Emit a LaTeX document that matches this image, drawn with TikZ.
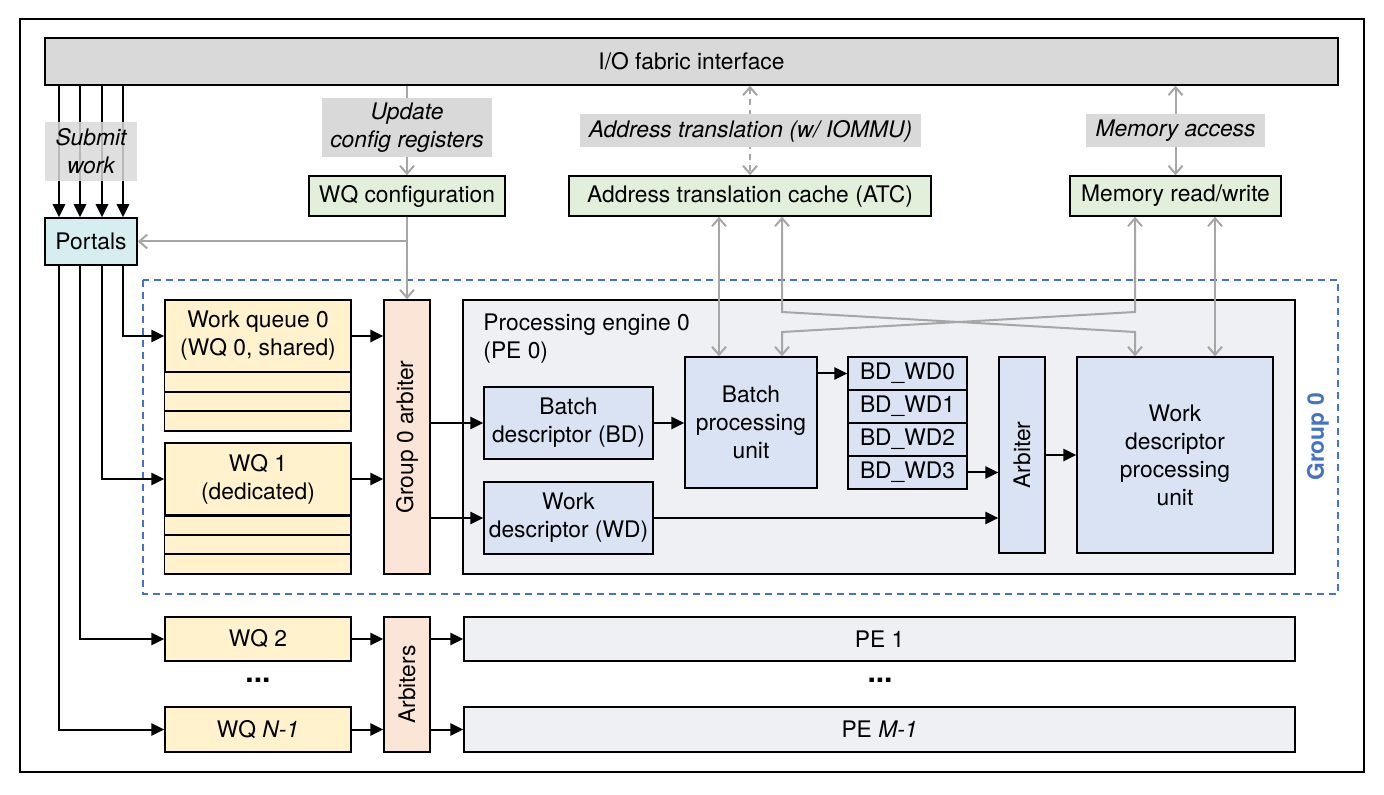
\documentclass[tikz,border=0pt]{standalone}
\usepackage{fontspec}
\setmainfont{TeX Gyre Heros}
\usetikzlibrary{arrows.meta, positioning}
\definecolor{monGris}{RGB}{217,217,217}
\definecolor{monVert}{RGB}{226,239,218}
\definecolor{monCyan}{RGB}{214,238,240}
\definecolor{monJaune}{RGB}{255,242,204}
\definecolor{monOrange}{RGB}{251,229,214}
\definecolor{monBleu}{RGB}{218,227,243}
\definecolor{monFond}{RGB}{239,240,244}
\definecolor{monTrait}{RGB}{166,166,166}
\definecolor{monGroupe}{RGB}{68,114,196}
\newcommand{\police}{\fontsize{11.4}{14}\selectfont}
\tikzset{
  boite/.style={draw, line width=0.75pt, inner sep=0pt, align=center},
  etiq/.style={fill=monGris, inner sep=0pt, align=center, font=\police\itshape},
  noir/.style={line width=1pt, -{Triangle[length=6.5pt,width=6.2pt]}},
  gris/.style={monTrait, line width=1pt, -{Straight Barb[length=4pt,width=7pt]}},
  grisdouble/.style={monTrait, line width=1pt, {Straight Barb[length=4pt,width=7pt]}-{Straight Barb[length=4pt,width=7pt]}}
}

\begin{document}
\begin{tikzpicture}[x=0.5pt, y=-0.5pt, font=\police]
        \useasboundingbox (0,0) rectangle (1384,795);
        % Cadre exterieur
        \draw[line width=1pt] (20,19) rectangle (1364,772);

        % Interface I/O
        \node[boite, fill=monGris, minimum width=646.5pt, minimum height=23.5pt] (io) at (691.5,61.5) {I/O fabric interface};

        % Portails
        \node[boite, fill=monCyan, minimum width=46pt, minimum height=23.5pt] (portals) at (91,241.5) {Portals};
        \foreach \x in {59,80,102,123}
            \draw[noir] (\x,0 |- io.south) -- (\x,0 |- portals.north);
        \node[etiq, fill opacity=0.85, text opacity=1, minimum width=46pt, minimum height=29.5pt] (submit) at (91,151.5) {Submit\\work};

        % Configuration des WQ
        \node[boite, fill=monVert, minimum width=98pt, minimum height=20pt] (wqcfg) at (407,196) {WQ configuration};
        \draw[gris] (wqcfg.north |- io.south) -- (wqcfg.north);
        \node[etiq, minimum width=85pt, minimum height=29.5pt] (update) at (407,127.5) {Update\\config registers};

        % Traduction d'adresse
        \node[boite, fill=monVert, minimum width=181pt, minimum height=20pt] (atc) at (750,196) {Address translation cache (ATC)};
        \draw[grisdouble, dash pattern=on 3pt off 2.5pt] (atc.north |- io.south) -- (atc.north);
        \node[etiq, minimum width=170.5pt, minimum height=16.5pt] (addr) at (750.5,131) {Address translation (w/ IOMMU)};

        % Acces memoire
        \node[boite, fill=monVert, minimum width=105.5pt, minimum height=20pt] (mem) at (1175.5,196) {Memory read/write};
        \draw[grisdouble] (mem.north |- io.south) -- (mem.north);
        \node[etiq, minimum width=89.5pt, minimum height=16.5pt] (memacc) at (1175.5,131) {Memory access};

        % Groupe 0
        \draw[monGroupe, line width=0.9pt, dash pattern=on 3.5pt off 2.5pt] (143,280) rectangle (1338,594);
        \node[rotate=90, text=monGroupe, font=\police\bfseries] (grp) at (1318,437) {Group 0};

        % Files de travail du groupe 0
        \node[boite, fill=monJaune, minimum width=93pt, minimum height=36pt] (wq0) at (258,336) {Work queue 0\\(WQ 0, shared)};
        \draw[line width=0.75pt, fill=monJaune] (wq0.south west) rectangle (351,431);
        \foreach \y in {392,411}
            \draw[line width=0.75pt] (165,\y) -- (351,\y);
        \node[boite, fill=monJaune, minimum width=93pt, minimum height=36pt] (wq1) at (258,479) {WQ 1\\(dedicated)};
        \draw[line width=0.75pt, fill=monJaune] (wq1.south west) rectangle (351,574);
        \foreach \y in {535,554}
            \draw[line width=0.75pt] (165,\y) -- (351,\y);

        % Arbitre du groupe 0
        \node[boite, fill=monOrange, minimum width=23pt, minimum height=137pt] (garb) at (407,437) {};
        \node[rotate=90] (garbtxt) at (garb.center) {Group 0 arbiter};

        % Moteur de traitement 0
        \node[boite, fill=monFond, minimum width=416pt, minimum height=137pt] (pe0) at (879,437) {};
        \node[anchor=north west, align=left, inner sep=0pt] (pe0txt) at (483,313) {Processing engine 0\\(PE 0)};
        \node[boite, fill=monBleu, minimum width=84.5pt, minimum height=36pt] (bd) at (568.5,423) {Batch\\descriptor (BD)};
        \node[boite, fill=monBleu, minimum width=84.5pt, minimum height=36pt] (wd) at (568.5,518) {Work\\descriptor (WD)};
        \node[boite, fill=monBleu, minimum width=66pt, minimum height=65.5pt] (bpu) at (751,422.5) {Batch\\processing\\unit};
        \foreach \i in {0,...,3}
            \node[boite, fill=monBleu, minimum width=59.5pt, minimum height=16.5pt] (bdwd\i) at (907.5,373.5+33*\i) {BD\_WD\i};
        \node[boite, fill=monBleu, minimum width=23pt, minimum height=98pt] (arb) at (1022,455) {};
        \node[rotate=90] (arbtxt) at (arb.center) {Arbiter};
        \node[boite, fill=monBleu, minimum width=98pt, minimum height=98pt] (wdpu) at (1175,455) {Work\\descriptor\\processing\\unit};

        % Autres files et moteurs
        \node[boite, fill=monJaune, minimum width=93pt, minimum height=22pt] (wq2) at (258,639) {WQ 2};
        \node[boite, fill=monJaune, minimum width=93pt, minimum height=22.5pt] (wqn) at (258,729.5) {WQ \textit{N-1}};
        \node[boite, fill=monOrange, minimum width=23pt, minimum height=67.5pt] (arbs) at (407,684.5) {};
        \node[rotate=90] (arbstxt) at (arbs.center) {Arbiters};
        \node[boite, fill=monFond, minimum width=415.5pt, minimum height=22pt] (pe1) at (879.5,639) {PE 1};
        \node[boite, fill=monFond, minimum width=415.5pt, minimum height=22.5pt] (pem) at (879.5,729.5) {PE \textit{M-1}};
        \node[font=\fontsize{15}{15}\selectfont\bfseries] (dotswq) at (258,680) {...};
        \node[font=\fontsize{15}{15}\selectfont\bfseries] (dotspe) at (880,680) {...};

        % Liaisons de configuration
        \draw[gris] (wqcfg.south) -- (garb.north);
        \draw[gris] (wqcfg.south |- portals.east) -- (portals.east);

        % Liaisons des portails vers les files
        \draw[noir] (123,0 |- portals.south) |- (wq0.west);
        \draw[noir] (102,0 |- portals.south) |- (wq1.west);
        \draw[noir] (80,0 |- portals.south) |- (wq2.west);
        \draw[noir] (59,0 |- portals.south) |- (wqn.west);

        % Chemin des descripteurs
        \draw[noir] (wq0.east) -- (garb.west |- wq0.east);
        \draw[noir] (wq1.east) -- (garb.west |- wq1.east);
        \draw[noir] (garb.east |- bd.west) -- (bd.west);
        \draw[noir] (garb.east |- wd.west) -- (wd.west);
        \draw[noir] (bd.east) -- (bpu.west |- bd.east);
        \draw[noir] (bpu.east |- bdwd0.west) -- (bdwd0.west);
        \draw[noir] (bdwd3.east) -- (arb.west |- bdwd3.east);
        \draw[noir] (wd.east) -- (arb.west |- wd.east);
        \draw[noir] (arb.east) -- (arb.east -| wdpu.west);
        \draw[noir] (wq2.east) -- (arbs.west |- wq2.east);
        \draw[noir] (wqn.east) -- (arbs.west |- wqn.east);
        \draw[noir] (arbs.east |- pe1.west) -- (pe1.west);
        \draw[noir] (arbs.east |- pem.west) -- (pem.west);

        % Liaisons ATC et memoire
        \draw[grisdouble] (719,0 |- atc.south) -- (719,0 |- bpu.north);
        \draw[grisdouble] (782,0 |- atc.south) -- (782,312) -- (1135,332) -- (1135,0 |- wdpu.north);
        \draw[grisdouble] (1135,0 |- mem.south) -- (1135,312) -- (782,332) -- (782,0 |- bpu.north);
        \draw[grisdouble] (1215,0 |- mem.south) -- (1215,0 |- wdpu.north);
    \end{tikzpicture}
\end{document}
